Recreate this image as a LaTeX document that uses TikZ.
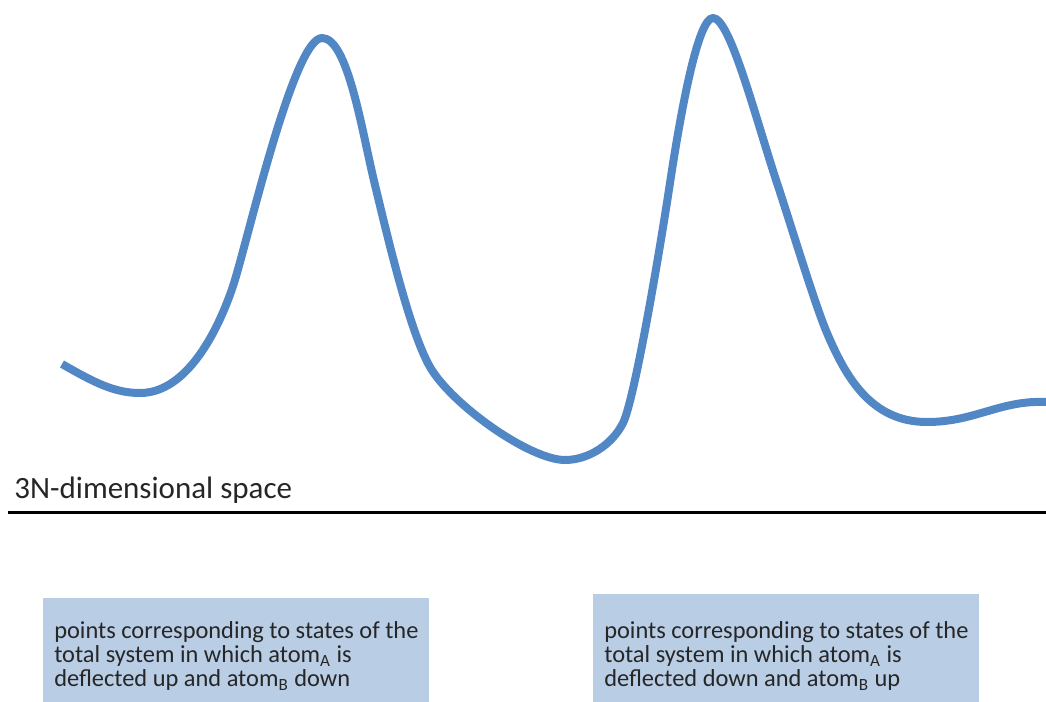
\documentclass[tikz,border=0pt]{standalone}
\usepackage{fontspec}
\setmainfont{Carlito}
\usepackage{xcolor}
\usetikzlibrary{positioning}

\definecolor{curveblue}{RGB}{82,135,198}
\definecolor{boxblue}{RGB}{185,205,229}

\begin{document}
\begin{tikzpicture}[
  x=0.5pt, y=-0.5pt,
  curve/.style={draw=curveblue,line width=4pt,line join=round},
  axis/.style={draw=black,line width=1.5pt},
  note/.style={fill=boxblue,anchor=north west,align=left,minimum width=193pt,inner xsep=0pt,font=\fontsize{12.2}{12}\selectfont,text=black!85},
  lbl/.style={anchor=base west,inner sep=0pt,font=\fontsize{15.5}{18}\selectfont,text=black!85},
]
\useasboundingbox (0,0) rectangle (1046,702);

% energy landscape over the configuration space
\draw[curve] (62,364)
  .. controls (95,383) and (115,393) .. (140,393)
  .. controls (195,393) and (226,308) .. (234,283)
  .. controls (249,235) and (294,38) .. (322,38)
  .. controls (348,38) and (362,132) .. (375,185)
  .. controls (389,243) and (410,332) .. (430,367)
  .. controls (452,405) and (530,460) .. (565,460)
  .. controls (588,460) and (612,445) .. (623,423)
  .. controls (634,401) and (658,262) .. (670,183)
  .. controls (681,110) and (698,18) .. (713,18)
  .. controls (730,18) and (755,116) .. (777,183)
  .. controls (790,222) and (815,305) .. (827,333)
  .. controls (845,375) and (870,422) .. (927,422)
  .. controls (975,422) and (1000,400) .. (1046,402);

% axis with its label
\node[lbl] (space) at (14,498) {3N-dimensional space};
\coordinate (axL) at (8,512);
\coordinate (axR) at (1046,512);
\draw[axis] (axL) -- (axR);

% the two notes below the axis
\node[note,minimum height=57.5pt] (upA) at (43,598)
  {points corresponding to states of the\\
   total system in which atom\textsubscript{A} is\\
   deflected up and atom\textsubscript{B} down};
\node[note,minimum height=61.5pt] (downA) at (593,594)
  {points corresponding to states of the\\
   total system in which atom\textsubscript{A} is\\
   deflected down and atom\textsubscript{B} up};
\end{tikzpicture}
\end{document}
